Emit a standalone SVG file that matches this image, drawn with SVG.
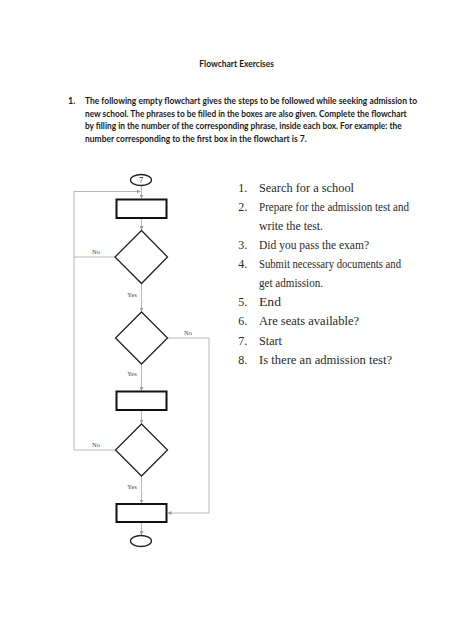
<svg xmlns="http://www.w3.org/2000/svg" width="474" height="632" viewBox="0 0 474 632">
<style>
.bg{fill:#ffffff}
.para{font-family:Lato,"Liberation Sans",sans-serif;font-weight:bold;font-size:9px;fill:#1a1a1a}
.list{font-family:"Liberation Serif",serif;font-size:12px;fill:#2a2a2a}
.lbl{font-family:"Liberation Serif",serif;font-size:6.5px;fill:#444}
.shape{fill:#fff;stroke:#222;stroke-width:1.3}
.box{fill:#fff;stroke:#111;stroke-width:2}
.conn{fill:none;stroke:#b8b8b8;stroke-width:1}
</style>
<defs>
<marker id="ah" viewBox="0 0 6 6" refX="6" refY="3" markerWidth="4" markerHeight="4" orient="auto" markerUnits="userSpaceOnUse">
<path d="M0,0 L6,3 L0,6 z" fill="#999"/>
</marker>
</defs>
<rect class="bg" x="0" y="0" width="474" height="632"/>

<g id="header">
<text class="para" x="236.7" y="67" text-anchor="middle" textLength="74.7" lengthAdjust="spacingAndGlyphs">Flowchart Exercises</text>
<text class="para" x="68" y="104">1.</text>
<text class="para" x="85" y="104" textLength="332" lengthAdjust="spacingAndGlyphs">The following empty flowchart gives the steps to be followed while seeking admission to</text>
<text class="para" x="85" y="116.5" textLength="321.7" lengthAdjust="spacingAndGlyphs">new school. The phrases to be filled in the boxes are also given. Complete the flowchart</text>
<text class="para" x="85" y="129" textLength="316.7" lengthAdjust="spacingAndGlyphs">by filling in the number of the corresponding phrase, inside each box. For example: the</text>
<text class="para" x="85" y="141.5" textLength="221.7" lengthAdjust="spacingAndGlyphs">number corresponding to the first box in the flowchart is 7.</text>
</g>

<g id="connectors">
<line class="conn" x1="141.5" y1="185.5" x2="141.5" y2="198.5" marker-end="url(#ah)"/>
<path class="conn" d="M115.5,450 H74 V191.5 H140.5" marker-end="url(#ah)"/>
<line class="conn" x1="114.5" y1="257" x2="74" y2="257"/>
<line class="conn" x1="141.5" y1="218.5" x2="141.5" y2="230" marker-end="url(#ah)"/>
<line class="conn" x1="141.5" y1="283.5" x2="141.5" y2="311.5" marker-end="url(#ah)"/>
<path class="conn" d="M167.5,338 H209 V513 H167.5" marker-end="url(#ah)"/>
<line class="conn" x1="141.5" y1="364" x2="141.5" y2="391" marker-end="url(#ah)"/>
<line class="conn" x1="141.5" y1="410.5" x2="141.5" y2="423.5" marker-end="url(#ah)"/>
<line class="conn" x1="141.5" y1="476" x2="141.5" y2="503.5" marker-end="url(#ah)"/>
<line class="conn" x1="141.5" y1="522.5" x2="141.5" y2="535" marker-end="url(#ah)"/>
<text class="lbl" x="96" y="254" text-anchor="middle">No</text>
<text class="lbl" x="132" y="297" text-anchor="middle">Yes</text>
<text class="lbl" x="188" y="335" text-anchor="middle">No</text>
<text class="lbl" x="132" y="376" text-anchor="middle">Yes</text>
<text class="lbl" x="96" y="447" text-anchor="middle">No</text>
<text class="lbl" x="132" y="489" text-anchor="middle">Yes</text>
</g>

<g id="start">
<ellipse class="shape" cx="141" cy="180" rx="10.5" ry="5.5"/>
<text x="141" y="183" text-anchor="middle" font-family="'Liberation Serif',serif" font-size="8.5" fill="#222">7</text>
</g>
<g id="box1"><rect class="box" x="116.5" y="199.5" width="50" height="18.5"/></g>
<g id="decision1"><polygon class="shape" points="141.5,230.5 167.5,257 141.5,283.5 115,257"/></g>
<g id="decision2"><polygon class="shape" points="141.5,312 167.5,338 141.5,364 115.5,338"/></g>
<g id="box2"><rect class="box" x="116.5" y="391.5" width="50" height="18.5"/></g>
<g id="decision3"><polygon class="shape" points="141.5,424 167.5,450 141.5,476 115.5,450"/></g>
<g id="box3"><rect class="box" x="116.5" y="504" width="50" height="18"/></g>
<g id="end"><ellipse class="shape" cx="141" cy="541" rx="10.5" ry="5.5"/></g>

<g id="phrases">
<text class="list" x="238.3" y="191.7">1.</text><text class="list" x="259" y="191.7" textLength="95" lengthAdjust="spacingAndGlyphs">Search for a school</text>
<text class="list" x="238.3" y="210.8">2.</text><text class="list" x="259" y="210.8" textLength="150" lengthAdjust="spacingAndGlyphs">Prepare for the admission test and</text>
<text class="list" x="259" y="229.9" textLength="64" lengthAdjust="spacingAndGlyphs">write the test.</text>
<text class="list" x="238.3" y="249">3.</text><text class="list" x="259" y="249" textLength="110" lengthAdjust="spacingAndGlyphs">Did you pass the exam?</text>
<text class="list" x="238.3" y="268.1">4.</text><text class="list" x="259" y="268.1" textLength="142" lengthAdjust="spacingAndGlyphs">Submit necessary documents and</text>
<text class="list" x="259" y="287.2" textLength="64" lengthAdjust="spacingAndGlyphs">get admission.</text>
<text class="list" x="238.3" y="306.3">5.</text><text class="list" x="259" y="306.3" textLength="22" lengthAdjust="spacingAndGlyphs">End</text>
<text class="list" x="238.3" y="325.4">6.</text><text class="list" x="259" y="325.4" textLength="100" lengthAdjust="spacingAndGlyphs">Are seats available?</text>
<text class="list" x="238.3" y="344.5">7.</text><text class="list" x="259" y="344.5" textLength="23" lengthAdjust="spacingAndGlyphs">Start</text>
<text class="list" x="238.3" y="363.6">8.</text><text class="list" x="259" y="363.6" textLength="133" lengthAdjust="spacingAndGlyphs">Is there an admission test?</text>
</g>
</svg>
